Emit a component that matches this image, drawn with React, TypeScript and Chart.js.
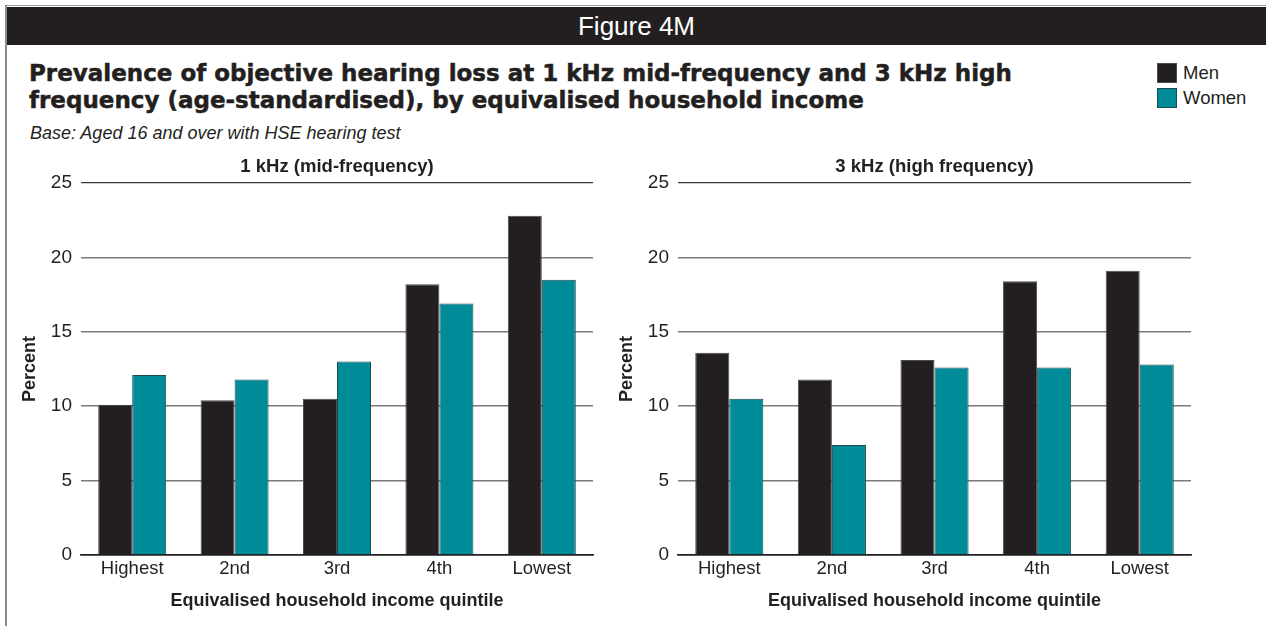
import React, { useEffect, useRef } from "react";
import { Chart, registerables } from "chart.js";

Chart.register(...registerables);

// ---- data ----
const categories = ["Highest", "2nd", "3rd", "4th", "Lowest"];
const seriesNames = ["Men", "Women"];
const seriesColors = ["#231f20", "#008b98"];
const seriesBorders = ["#4d4b4c", "#1f4a50"];
const men1k = [10.1, 10.4, 10.5, 18.2, 22.8];
const women1k = [12.1, 11.8, 13.0, 16.9, 18.5];
const men3k = [13.6, 11.8, 13.1, 18.4, 19.1];
const women3k = [10.5, 7.4, 12.6, 12.6, 12.8];
const yMin = 0;
const yMax = 25;
const yStep = 5;
const panelTitles = ["1 kHz (mid-frequency)", "3 kHz (high frequency)"];
const xAxisTitle = "Equivalised household income quintile";
const yAxisTitle = "Percent";
const figureLabel = "Figure 4M";
const titleLine1 = "Prevalence of objective hearing loss at 1 kHz mid-frequency and 3 kHz high";
const titleLine2 = "frequency (age-standardised), by equivalised household income";
const baseText = "Base: Aged 16 and over with HSE hearing test";

const FONT = "'Liberation Sans', Arial, Helvetica, sans-serif";
const HEAVY = "'DejaVu Sans', 'Liberation Sans', Arial, sans-serif";
const INK = "#231f20";

const panelTitlePlugin = {
  id: "panelTitle",
  afterDraw(chart: any, _args: any, opts: any) {
    const { ctx, chartArea } = chart;
    ctx.save();
    ctx.font = opts.font;
    ctx.fillStyle = opts.color;
    ctx.textAlign = "center";
    ctx.textBaseline = "middle";
    ctx.fillText(opts.text, (chartArea.left + chartArea.right) / 2, opts.y);
    ctx.restore();
  },
};

type PanelProps = {
  left: number;
  top: number;
  width: number;
  height: number;
  padRight: number;
  title: string;
  men: number[];
  women: number[];
};

function BarPanel({ left, top, width, height, padRight, title, men, women }: PanelProps) {
  const ref = useRef<HTMLCanvasElement>(null);
  useEffect(() => {
    const chart = new Chart(ref.current as HTMLCanvasElement, {
      type: "bar",
      data: {
        labels: categories,
        datasets: [
          {
            label: seriesNames[0],
            data: men,
            backgroundColor: seriesColors[0],
            borderColor: seriesBorders[0],
            borderWidth: 1,
          },
          {
            label: seriesNames[1],
            data: women,
            backgroundColor: seriesColors[1],
            borderColor: seriesBorders[1],
            borderWidth: 1,
          },
        ],
      },
      options: {
        animation: false,
        responsive: false,
        maintainAspectRatio: false,
        layout: { padding: { left: 0, right: padRight, top: 33, bottom: 0 } },
        datasets: { bar: { categoryPercentage: 0.664, barPercentage: 1 } },
        plugins: {
          legend: { display: false },
          tooltip: { enabled: false },
          // @ts-ignore
          panelTitle: { text: title, font: `bold 18.5px ${FONT}`, color: INK, y: 17 },
        },
        scales: {
          x: {
            grid: { display: false, drawTicks: false },
            border: { display: true, color: INK, width: 1.5 },
            ticks: { color: INK, font: { family: FONT, size: 18.5 }, padding: 3 },
            title: {
              display: true,
              text: xAxisTitle,
              color: INK,
              font: { family: FONT, size: 18, weight: "bold" },
              padding: { top: 0, bottom: 8 },
            },
            afterFit: (s: any) => {
              s.height = 65;
            },
          },
          y: {
            min: yMin,
            max: yMax,
            ticks: { stepSize: yStep, color: INK, font: { family: FONT, size: 19 }, padding: 9 },
            grid: {
              drawTicks: false,
              color: (c: any) =>
                c.tick && c.tick.value === yMax ? "#3a3a3a" : c.tick && c.tick.value === 0 ? INK : "#7a7a7a",
              lineWidth: (c: any) => (c.tick && c.tick.value === yMax ? 1.2 : 1.5),
            },
            border: { display: false },
            title: {
              display: true,
              text: yAxisTitle,
              color: INK,
              font: { family: FONT, size: 18, weight: "bold" },
              padding: { top: 9, bottom: 0 },
            },
            afterFit: (s: any) => {
              s.width = 71;
            },
          },
        },
      } as any,
      plugins: [panelTitlePlugin as any],
    });
    return () => chart.destroy();
  }, []);
  return (
    <canvas
      ref={ref}
      width={width}
      height={height}
      style={{ position: "absolute", left, top, width, height }}
    />
  );
}

export default function App() {
  return (
    <div style={{ fontFamily: FONT, color: INK }}>
      <div style={{ position: "absolute", left: 6, top: 5, width: 1260, height: 1, background: "#9a9a9a" }} />
      <div style={{ position: "absolute", left: 5, top: 5, width: 1.5, height: 621, background: "#8c8c8c" }} />
      <div
        style={{
          position: "absolute",
          left: 7,
          top: 7,
          width: 1259,
          height: 38,
          background: INK,
          color: "#ffffff",
          fontSize: 26,
          lineHeight: "38px",
          textAlign: "center",
        }}
      >
        {figureLabel}
      </div>
      <div
        style={{
          position: "absolute",
          left: 29,
          top: 60,
          fontFamily: HEAVY,
          fontSize: 23,
          lineHeight: "27px",
          fontWeight: 700,
          WebkitTextStroke: "0.5px " + INK,
          whiteSpace: "nowrap",
        }}
      >
        {titleLine1}
        <br />
        {titleLine2}
      </div>
      <div
        style={{
          position: "absolute",
          left: 30,
          top: 123,
          fontSize: 18,
          lineHeight: "20px",
          fontStyle: "italic",
        }}
      >
        {baseText}
      </div>
      {seriesNames.map((name, i) => (
        <div
          key={name}
          style={{ position: "absolute", left: 1157, top: 63 + i * 25, height: 20, display: "flex", alignItems: "center" }}
        >
          <div
            style={{
              width: 20,
              height: 20,
              background: seriesColors[i],
              border: "1px solid " + seriesBorders[i],
              boxSizing: "border-box",
            }}
          />
          <span style={{ marginLeft: 6, fontSize: 18.5, lineHeight: "20px" }}>{name}</span>
        </div>
      ))}
      <BarPanel left={10} top={150} width={600} height={470} padRight={17} title={panelTitles[0]} men={men1k} women={women1k} />
      <BarPanel left={607} top={150} width={600} height={470} padRight={16} title={panelTitles[1]} men={men3k} women={women3k} />
    </div>
  );
}
